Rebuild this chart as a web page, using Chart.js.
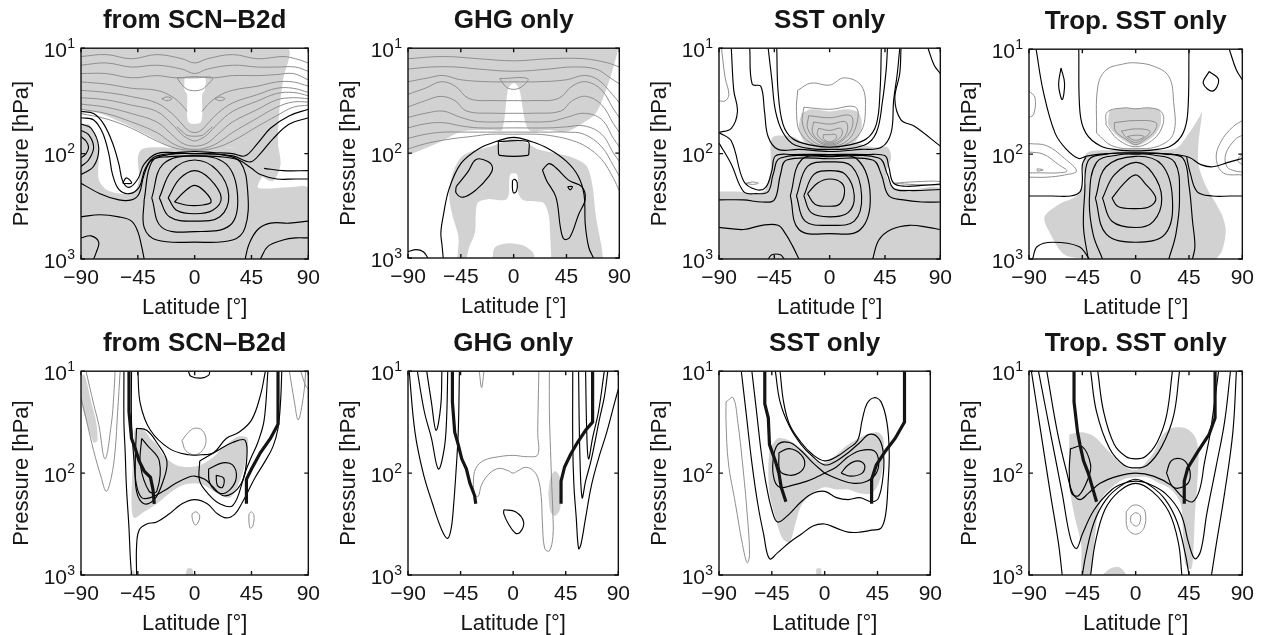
<!DOCTYPE html>
<html><head><meta charset="utf-8">
<script src="https://cdn.jsdelivr.net/npm/chart.js@4/dist/chart.umd.min.js"></script>
<style>
html,body{margin:0;padding:0;background:#fff;}
body{width:1266px;height:635px;overflow:hidden;position:relative;}
.pn{position:absolute;}
</style>
</head><body>
<script>
// ---------- axis values ----------
const latTicks = [-90, -45, 0, 45, 90];
const pressureTicks = [10, 100, 1000];
const pressureExponents = [1, 2, 3];
const panelTitles = ['from SCN\u2013B2d','GHG only','SST only','Trop. SST only','from SCN\u2013B2d','GHG only','SST only','Trop. SST only'];

// ---------- contour data: [latitude (deg), pressure (hPa)] ----------
// Panel 1 (top, from SCN-B2d)
const t1Shade = [
 [[-90,10],[73,10],[70,20],[67,39.8],[66,79.4],[68,126],[62,182],[52,158],[45,100],[35,87.1],[15,91.2],[0,95.5],[-15,91.2],[-35,69.2],[-55,52.5],[-75,41.7],[-90,38]],
 [[-90,55],[-84,52.5],[-78,69.2],[-76,110],[-76,174],[-70,219],[-58,240],[-48,229],[-44,174],[-45,110],[-42,91.2],[-30,87.1],[0,91.2],[30,87.1],[55,83.2],[63,100],[63,138],[55,158],[50,209],[60,214],[75,209],[90,214],[90,1000],[-90,1000]]
];
const t1Hole = [
 [[-8,19.1],[8,19.1],[8,25.1],[6,27.5],[5,50.1],[-5,50.1],[-6,27.5],[-8,25.1],[-8,19.1]]
];
const t1Gray = [
 [[-90,12],[-70,11.5],[-50,12.6],[-30,11.5],[-10,12.6],[0,13.8],[10,12.6],[30,11.5],[50,12.6],[70,12],[80,12.6],[90,13.8]],
 [[-90,14.5],[-70,13.8],[-50,15.1],[-30,14.5],[-10,15.8],[0,17.4],[10,15.8],[30,14.5],[50,15.1],[65,15.1],[80,15.1],[90,16.6]],
 [[-90,17.4],[-70,17.4],[-50,19.1],[-30,18.2],[-15,19.1],[0,18.6],[15,19.1],[30,18.2],[50,18.2],[65,17.8],[78,17.4],[90,20]],
 [[-90,20.9],[-70,21.9],[-50,24],[-30,25.1],[-18,28.8],[-10,34.7],[-6,39.8]],
 [[6,39.8],[10,34.7],[18,28.8],[30,25.1],[50,22.9],[65,20.9],[78,20.9],[90,22.9]],
 [[-90,25.1],[-70,26.3],[-50,28.8],[-30,33.1],[-18,41.7],[-10,52.5],[-5,60.3],[0,63.1],[5,60.3],[10,52.5],[18,41.7],[30,33.1],[50,27.5],[65,24],[78,24],[90,26.3]],
 [[-90,29.5],[-70,30.9],[-50,34.7],[-30,39.8],[-18,52.5],[-10,66.1],[-5,72.4],[0,75.9],[5,72.4],[10,66.1],[18,52.5],[30,39.8],[50,31.6],[65,26.9],[78,26.3],[90,28.2]],
 [[-90,33.9],[-70,36.3],[-50,41.7],[-30,50.1],[-18,66.1],[-10,79.4],[0,85],[10,79.4],[18,66.1],[30,50.1],[50,38],[65,30.9],[78,29.5],[90,30.2]],
 [[-90,38],[-70,41.7],[-50,50.1],[-30,63.1],[-18,79.4],[-8,89],[0,91.2],[8,89],[18,79.4],[30,63.1],[50,45.7],[65,36.3],[78,32.4],[90,32.4]],
 [[-90,41.7],[-70,46.8],[-50,57.5],[-30,75.9],[-15,89],[0,93.3],[15,89],[30,75.9],[50,55],[65,43.7],[78,36.3],[90,34.7]],
 [[-14,19.1],[-9,23],[-4,25],[4,25],[9,23],[14,19.1],[0,19.1],[-14,19.1]],
 [[-14,55.6],[-9,63.1],[-5,67.6],[5,67.6],[9,63.1],[14,55.6]],
 [[-26,30.2],[-22,29],[-18,30.2],[-22,31.5],[-26,30.2]],
 [[16,30.2],[20,29],[24,30.2],[20,31.5],[16,30.2]]
];
const t1Black = [
 [[-16,288],[-8,229],[0,200],[8,229],[13,288],[5,309],[-6,309],[-16,288]],
 [[-21,263],[-12,174],[0,145],[12,174],[21,263],[14,347],[0,372],[-14,347],[-21,263]],
 [[-28,263],[-18,145],[0,115],[18,145],[27,251],[20,398],[0,437],[-20,398],[-28,263]],
 [[-34,263],[-25,126],[0,105],[25,126],[34,251],[28,479],[0,550],[-26,501],[-34,263]],
 [[-40,275],[-34,120],[-20,102],[0,100],[20,102],[36,120],[42,229],[40,501],[30,661],[0,692],[-30,661],[-40,501],[-40,275]],
 [[-90,39.8],[-80,41.7],[-72,52.5],[-65,79.4],[-60,126],[-57,182],[-52,209],[-45,174],[-40,126],[-30,100],[-15,97.7],[0,95.5],[15,97.7],[30,100],[40,105],[50,79.4],[60,57.5],[75,43.7],[90,38]],
 [[-90,45.7],[-80,47.9],[-73,63.1],[-68,100],[-65,158],[-60,219],[-52,240],[-44,209],[-39,138],[-30,105],[0,100],[30,105],[44,120],[52,100],[62,72.4],[75,52.5],[90,45.7]],
 [[-90,191],[-75,240],[-60,275],[-50,275],[-44,240],[-40,158],[-34,115],[-20,107],[0,105],[20,107],[35,115],[45,138],[52,158],[65,174],[80,174],[90,174]],
 [[-90,398],[-75,380],[-60,398],[-50,437],[-45,550],[-42,759],[-40,1000]],
 [[40,1000],[43,724],[50,525],[60,457],[75,457],[90,437]],
 [[52,1000],[58,759],[70,661],[80,631],[90,631]],
 [[-90,631],[-82,603],[-76,692],[-78,871],[-80,1000]],
 [[-90,69.2],[-86,75.9],[-84,87.1],[-86,100],[-90,110]],
 [[-90,60.3],[-84,66.1],[-80,87.1],[-84,115],[-90,132]],
 [[-90,52.5],[-82,57.5],[-76,87.1],[-80,132],[-90,158]],
 [[-57,191],[-54,170],[-50,191],[-57,191]],
 [[55,138],[70,145],[90,145]]
];

// Panel 2 (top, GHG only)
const t2Shade = [
 [[-90,10],[88,10],[85,15.1],[78,26.3],[70,41.7],[58,52.5],[44,63.1],[30,60.3],[13,60.3],[5,25.1],[2,21.9],[-2,21.9],[-5,25.1],[-10,60.3],[-18,60.3],[-32,60.3],[-46,63.1],[-60,75.9],[-74,89],[-90,105]],
 [[-48,1000],[-47,631],[-52,398],[-55,251],[-52,158],[-45,110],[-35,95.5],[-20,87.1],[-10,79.4],[0,72.4],[10,79.4],[20,91.2],[35,100],[50,110],[62,132],[67,200],[70,398],[75,794],[76,1000]]
];
const t2Hole = [
 [[-40,1000],[-38,794],[-33,575],[-31,302],[-22,275],[-12,282],[-6,275],[-4,240],[-3,160],[3,160],[4,240],[8,280],[18,288],[26,302],[30,400],[31,575],[32,1000]]
];
const t2Patch = [
 [[-18,1000],[-16,794],[-5,724],[8,759],[16,871],[18,1000]]
];
const t2Gray = [
 [[-90,12.6],[-60,12],[-30,12.6],[0,13.2],[30,12.6],[60,12.6],[80,13.8],[90,15.1]],
 [[-90,15.8],[-70,15.1],[-50,15.1],[-30,15.8],[0,16.6],[30,15.8],[50,15.1],[70,15.8],[82,19.1],[90,21.9]],
 [[-90,20.9],[-72,19.1],[-60,18.2],[-45,20],[-20,20.9],[0,20.9],[20,20.9],[45,20],[60,18.2],[72,20],[84,27.5],[90,33.1]],
 [[-90,27.5],[-75,24],[-62,20.9],[-50,22.9],[-38,30.2],[-15,31.6],[0,31.6],[15,31.6],[38,30.2],[50,22.9],[62,20.9],[75,25.1],[85,38],[90,45.7]],
 [[-90,36.3],[-75,31.6],[-62,28.8],[-50,31.6],[-40,39.8],[-15,41.7],[0,41.7],[15,41.7],[40,39.8],[50,31.6],[62,28.8],[75,34.7],[85,52.5],[90,63.1]],
 [[-90,45.7],[-75,41.7],[-60,39.8],[-45,45.7],[-30,50.1],[0,50.1],[30,50.1],[45,45.7],[60,41.7],[75,47.9],[85,72.4],[90,87.1]],
 [[-90,57.5],[-75,52.5],[-60,51.3],[-45,55],[-30,57.5],[0,57.5],[30,57.5],[45,56.2],[60,55],[75,66.1],[85,100],[90,120]],
 [[-90,72.4],[-75,66.1],[-60,63.1],[-45,63.1],[-30,63.1],[0,63.1],[30,63.1],[45,63.1],[60,66.1],[75,87.1],[85,132],[90,166]],
 [[-90,91.2],[-75,81.3],[-62,75.9],[-50,72.4],[-35,69.2],[-20,66.1],[0,66.1],[20,66.1],[35,69.2],[50,75.9],[62,87.1],[75,115],[85,174],[90,229]],
 [[-12,19.5],[12,19.5],[5,24],[-5,24],[-12,19.5]]
];
const t2Black = [
 [[-60,1000],[-61,759],[-62,575],[-60,398],[-55,219],[-45,126],[-30,91.2],[-15,77.6],[0,70.8],[15,77.6],[30,91.2],[45,120],[55,166],[60,251],[61,479],[64,794],[68,1000]],
 [[-13,77.6],[12,77.6],[13,95.5],[12,105],[-12,105],[-13,95.5],[-13,77.6]],
 [[-49,209],[-39,151],[-32,115],[-22,120],[-18,138],[-21,166],[-32,224],[-43,263],[-49,240],[-49,209]],
 [[24.5,145],[30,126],[36,138],[47,182],[58,209],[61,275],[55.5,380],[48,631],[43,661],[40,525],[36,263],[28,182],[24.5,145]],
 [[46,209],[50,209],[48,224],[46,209]],
 [[-1,182],[1,178],[3,191],[2.5,229],[0,240],[-1,220],[-1,182]],
 [[-90,871],[-83,832],[-77,871],[-73,1000]]
];

// Panel 3 (top, SST only)
const t3Shade = [
 [[-23,41.7],[-15,38],[0,39.8],[15,38],[24,41.7],[26,57.5],[20,79.4],[10,87.1],[-10,87.1],[-20,79.4],[-25,57.5],[-23,41.7]],
 [[-90,229],[-75,229],[-60,240],[-52,219],[-48,145],[-48,87.1],[-46,69.2],[-30,69.2],[-20,79.4],[20,79.4],[35,87.1],[47,87.1],[50,110],[46,158],[52,209],[65,219],[90,219],[90,1000],[-90,1000]]
];
const t3Gray = [
 [[-26,25.1],[-15,21.4],[0,22.4],[12,19.1],[26,22.9],[29,39.8],[25,63.1],[12,83.2],[0,87.1],[-12,83.2],[-24,63.1],[-27,39.8],[-26,25.1]],
 [[-21,36.3],[0,38],[21,36.3],[22,52.5],[14,75.9],[0,85],[-14,75.9],[-22,52.5],[-21,36.3]],
 [[-17,43.7],[0,45.7],[17,43.7],[18,57.5],[10,75.9],[0,83.2],[-10,75.9],[-18,57.5],[-17,43.7]],
 [[-13,50.1],[0,52.5],[13,50.1],[14,63.1],[8,75.9],[0,81.3],[-8,75.9],[-14,63.1],[-13,50.1]],
 [[-9,57.5],[0,60.3],[9,57.5],[10,66.1],[5,75.9],[0,79.4],[-5,75.9],[-10,66.1],[-9,57.5]],
 [[-5,66.1],[0,66.1],[5,66.1],[5,72.4],[0,77.6],[-5,72.4],[-5,66.1]],
 [[-88,10],[-85,19.1],[-82,27.5],[-85,31.6],[-90,31.6]],
 [[-68,191],[-63,186],[-58,191],[-63,196],[-68,191]],
 [[52,191],[70,185],[90,184],[90,197],[70,197],[52,191]]
];
const t3Black = [
 [[-18,240],[-10,191],[0,174],[10,191],[12,240],[8,302],[0,316],[-12,302],[-18,240]],
 [[-21,251],[-13,158],[0,145],[13,158],[20,251],[15,363],[0,398],[-15,363],[-21,251]],
 [[-27,251],[-18,132],[0,120],[18,132],[26,251],[20,437],[0,479],[-20,437],[-27,251]],
 [[-32,251],[-23,115],[0,105],[23,115],[33,251],[25,525],[0,575],[-25,525],[-32,251]],
 [[-65,10],[-63,21.9],[-56,23],[-53,39.8],[-50,69.2],[-42,91.2],[-25,91.2],[0,95.5],[25,91.2],[42,87.1],[50,63.1],[52,31.6],[55,17.4],[57,10]],
 [[-50,10],[-47,20],[-44,39.8],[-38,63.1],[-28,83.2],[0,91.2],[28,83.2],[38,63.1],[43,31.6],[46,15.8],[47,10]],
 [[-43,10],[-42,25.1],[-38,52.5],[-30,72.4],[-15,83.2],[0,87.1],[15,83.2],[30,72.4],[38,52.5],[41,25.1],[42,10]],
 [[-90,63.1],[-80,75.9],[-70,182],[-60,219],[-52,209],[-47,145],[-44,105],[-30,102],[0,102],[30,102],[45,105],[48,132],[52,191],[62,204],[75,200],[90,195]],
 [[-90,79.4],[-80,126],[-70,229],[-60,240],[-50,229],[-46,158],[-40,110],[0,107],[40,110],[47,158],[52,214],[65,224],[90,219]],
 [[-90,275],[-70,275],[-55,288],[-45,275],[-40,158],[-35,115],[0,112],[35,115],[42,158],[48,251],[60,275],[75,288],[90,288]],
 [[-90,501],[-70,525],[-55,479],[-42,479],[-36,575],[-30,759],[-25,1000]],
 [[35,1000],[40,661],[50,525],[65,479],[80,501],[90,525]],
 [[-50,1000],[-47,912],[-40,912],[-37,1000]],
 [[58,10],[57,17.4],[53,30.2],[58,47.9],[69,55],[90,85]],
 [[80,10],[85,14.5],[90,17.4]],
 [[-80,10],[-78,25.1],[-75,39.8],[-80,57.5],[-90,63.1]]
];

// Panel 4 (top, Trop. SST only)
const t4Shade = [
 [[-22,38],[-10,36.3],[0,37],[10,36.3],[20,38],[21,52.5],[14,69.2],[0,83.2],[-14,69.2],[-23,52.5],[-22,38]],
 [[-40,1000],[-60,912],[-72,575],[-77,398],[-65,302],[-50,251],[-42,182],[-45,126],[-40,95.5],[-20,91.2],[0,87.1],[20,91.2],[35,87.1],[45,63.1],[54,43.7],[56,39.8],[53,79.4],[53,126],[60,209],[72,363],[76,525],[73,832],[68,1000]]
];
const t4Gray = [
 [[-33,63.1],[-32,22.9],[-25,15.8],[-10,13.8],[0,13.5],[15,14.5],[28,18.2],[32,31.6],[32,63.1],[20,83.2],[0,89],[-20,83.2],[-33,63.1]],
 [[-25,52.5],[-24,39.8],[-10,36.3],[0,37],[12,36.3],[22,39.8],[23,52.5],[15,72.4],[0,85],[-15,72.4],[-25,52.5]],
 [[-18,50.1],[0,47.9],[17,50.1],[16,60.3],[8,72.4],[0,81.3],[-8,72.4],[-17,60.3],[-18,50.1]],
 [[-12,60.3],[0,57.5],[12,60.3],[8,69.2],[0,77.6],[-8,69.2],[-12,60.3]],
 [[-7,68],[0,66],[7,68],[0,74],[-7,68]],
 [[-90,25.1],[-85,28.8],[-86,41.7],[-90,44.7]],
 [[-90,79.4],[-75,83.2],[-60,110],[-50,145],[-60,158],[-75,166],[-90,166]],
 [[-90,95.5],[-78,100],[-65,126],[-58,145],[-66,151],[-78,151],[-90,151]],
 [[-83,138],[-78,141],[-83,145],[-83,138]],
 [[90,47.9],[82,55],[72,75.9],[68,110],[74,151],[90,158]],
 [[90,66.1],[84,72.4],[76,100],[77,132],[84,145],[90,148]],
 [[90,100],[86,115],[90,126]]
];
const t4Black = [
 [[-20,263],[-10,191],[0,158],[8,191],[17,263],[12,316],[0,331],[-15,316],[-20,263]],
 [[-28,263],[-18,158],[0,120],[14,151],[22,263],[15,437],[0,501],[-20,437],[-28,263]],
 [[-34,263],[-25,132],[0,105],[22,126],[31,263],[25,575],[0,692],[-25,575],[-34,263]],
 [[-28,1000],[-36,575],[-39,263],[-33,120],[-15,102],[0,100],[15,102],[33,120],[37,263],[34,575],[28,1000]],
 [[-40,1000],[-44,501],[-43,240],[-40,115],[-25,100],[0,98],[25,100],[40,110],[45,200],[48,437],[50,759],[48,1000]],
 [[-48,10],[-47,39.8],[-42,63.1],[-30,83.2],[-15,91.2],[0,93.3],[15,91.2],[30,83.2],[40,63.1],[44,39.8],[45,10]],
 [[-84,10],[-78,25.1],[-68,63.1],[-58,91.2],[-48,110],[-42,105],[-30,100],[0,97],[30,100],[45,107],[55,126],[65,132],[78,120],[90,110]],
 [[-90,251],[-70,251],[-55,251],[-47,229],[-45,182],[-45,126],[-42,107]],
 [[43,107],[46,151],[52,229],[65,251],[80,251],[90,251]],
 [[-63,15.1],[-60,21.1],[-62,30.2],[-65,21.9],[-63,15.1]],
 [[62,16.3],[70,19.6],[65,25.1],[57,21.1],[62,16.3]],
 [[79,10],[85,15.8],[90,19.5]],
 [[-87,1000],[-83,759],[-70,692],[-48,759],[-39,1000]]
];

// Panel 5 (bottom, from SCN-B2d)
const b1Shade = [
 [[-90,11],[-87,11],[-82,20],[-78,31.6],[-77,47.9],[-80,50.1],[-83,39.8],[-88,25.1],[-90,20]],
 [[-47,36.3],[-40,38],[-35,45.7],[-30,52.5],[-25,66.1],[-15,83.2],[-5,87.1],[5,83.2],[15,69.2],[25,52.5],[35,43.7],[42,45.7],[40,79.4],[35,126],[28,174],[18,158],[8,132],[0,126],[-10,132],[-20,158],[-30,200],[-40,240],[-48,275],[-50,200],[-49,79.4],[-48,39.8]],
 [[-52,1000],[-50,912],[-48,912],[-47,1000]],
 [[-7,1000],[-6,871],[-2,871],[-1,1000]]
];
const b1Gray = [
 [[-10,47.9],[-5,39.8],[0,36.3],[6,38],[9,47.9],[6,60.3],[0,66.1],[-7,60.3],[-10,47.9]],
 [[-2,251],[1,240],[4,263],[2,316],[0,320],[-2,275],[-2,251]],
 [[43,251],[45,240],[47,263],[46,331],[44,347],[43,302],[43,251]],
 [[-90,18.2],[-85,33],[-80,60.3],[-74,110],[-70,151],[-66,110],[-63,60.3],[-61,25.1],[-59,10]],
 [[-86,10],[-80,21],[-76,33.1],[-71,72.4],[-66,33.1],[-64,17],[-63,10]],
 [[75,10],[79,20],[82,30],[86,18],[88,10]],
 [[84,10],[88,14],[90,15]]
];
const b1Black = [
 [[-56,10],[-56,31.6],[-55,63.1],[-54,138],[-52,347],[-51,661],[-50,1000]],
 [[-46,1000],[-46,525],[-44,363],[-38,316],[-30,302],[-20,251],[-10,200],[0,182],[10,200],[18,251],[25,275],[32,251],[38,191],[43,145],[48,110],[55,79.4],[62,55],[66,36.3],[68,20],[69,10]],
 [[-50,10],[-50,31.6],[-48,75.9],[-46,132],[-42,174],[-35,174],[-25,151],[-15,126],[-5,110],[0,107],[8,115],[15,138],[22,166],[30,158],[37,126],[41,91.2],[45,69.2],[50,50.1],[55,30.2],[58,10]],
 [[-45,10],[-43,20.9],[-35,38],[-20,57.5],[-5,66.1],[5,66.1],[15,63.1],[25,45.7],[35,39.8],[45,30.2],[52,17.4],[56,10]],
 [[-5,10],[-3,11.2],[5,11.7],[11,11],[12,10]],
 [[-42,45.7],[-38,52.5],[-28,75.9],[-30,151],[-36,151],[-43,83.2],[-42,45.7]],
 [[-46,36.3],[-38,38],[-30,50.1],[-22,75.9],[-25,120],[-32,182],[-40,200],[-46,151],[-47,75.9],[-46,36.3]],
 [[17,105],[23,112],[22,138],[18,132],[17,105]],
 [[11,91.2],[22,79.4],[30,83.2],[33,110],[28,145],[20,158],[12,126],[11,91.2]],
 [[4,75.9],[18,60.3],[30,50.1],[40,47.9],[41,79.4],[38,120],[30,209],[20,200],[12,166],[4,120],[4,75.9]]
];
const b1Thick = [
 [[-52,10],[-52,25.1],[-50,45.7],[-47,57.5],[-44,75.9],[-40,95.5],[-35,110],[-33,145],[-32,200]],
 [[66,10],[66,33.1],[60,45.7],[52,63.1],[45,91.2],[41,115],[41,200]]
];

// Panel 6 (bottom, GHG only)
const b2Shade = [
 [[30,158],[32,110],[36,95.5],[40,110],[41,158],[40,229],[36,263],[32,240],[30,158]]
];
const b2Gray = [
 [[-29,10],[-27,14.5],[-25,10]],
 [[22,10],[21,40],[21,66],[12,69],[0,67],[-12,69],[-25,75],[-32,90],[-34,120],[-33,160],[-30,170],[-27,130],[-20,100],[-12,90],[-4,95],[0,100],[4,95],[10,88],[16,92],[21,110],[24,170],[25,300],[27,550],[31,580],[34,420],[34,250],[33,130],[32,60],[31,25],[31,10]]
];
const b2Black = [
 [[-89,10],[-84,39.8],[-77,100],[-69,200],[-61,363],[-56,437],[-53,347],[-51,209],[-49,100],[-47,39.8],[-46,10]],
 [[-82,10],[-76,25],[-70,45],[-64,91.2],[-59,57.5],[-57,30],[-56,10]],
 [[-74,10],[-70,20],[-66,38],[-62,22],[-61,10]],
 [[51,10],[51,52.5],[52,132],[54,275],[56,550],[58,501],[62,275],[67,132],[73,72.4],[80,40],[87,20],[90,15]],
 [[56,10],[57,60],[59,174],[62,120],[67,72.4],[74,29],[78,18],[81,10]],
 [[62,10],[63,40],[64.5,72.4],[68,45],[73,25],[78,10]],
 [[-8,229],[2,240],[9,302],[6,380],[2,389],[-4,316],[-8,251],[-8,229]]
];
const b2Thick = [
 [[-52,10],[-52,20],[-50,39.8],[-47,52.5],[-44,72.4],[-40,91.2],[-37,126],[-33,166],[-32,200]],
 [[68,10],[68,31.6],[62,38],[55,50.1],[49,66.1],[44,87.1],[41,120],[41,200]]
];

// Panel 7 (bottom, SST only)
const b3Shade = [
 [[-47,57.5],[-40,45.7],[-30,47.9],[-20,57.5],[-10,72.4],[0,79.4],[10,66.1],[20,52.5],[32,43.7],[45,39.8],[50,45.7],[50,79.4],[46,126],[40,158],[30,158],[20,145],[10,145],[0,138],[-10,158],[-20,209],[-25,316],[-30,479],[-36,437],[-42,275],[-47,158],[-48,91.2],[-47,57.5]],
 [[-7,1000],[-7,871],[-3,871],[-3,1000]]
];
const b3Gray = [
 [[-84,20],[-78,18.2],[-74,31.6],[-70,79.4],[-66,251],[-64,631],[-66,759],[-70,501],[-76,200],[-82,79.4],[-84,31.6],[-84,20]]
];
const b3Black = [
 [[-71,10],[-67,25.1],[-62,79.4],[-57,200],[-52,398],[-47,692],[-40,603],[-30,479],[-20,398],[-10,331],[0,316],[10,347],[20,380],[30,380],[40,363],[48,347],[52,251],[54,126],[55,63.1],[53,31.6],[48,20],[42,18.2],[36,20.9],[32,30],[28,47.9],[20,57.5],[10,69.2],[0,75.9],[-10,66.1],[-20,50.1],[-30,33.1],[-35,20],[-38,10]],
 [[-62,10],[-58,25.1],[-54,63.1],[-50,126],[-45,229],[-40,302],[-30,251],[-20,191],[-10,158],[0,151],[10,174],[20,182],[30,174],[40,191],[46,174],[50,100],[50,63.1],[46,45.7],[38,41.7],[30,50.1],[20,63.1],[10,75.9],[0,83.2],[-10,69.2],[-20,52.5],[-30,34.7],[-38,20],[-42,10]],
 [[0,100],[-10,79.4],[-20,60.3],[-30,50.1],[-40,52.5],[-44,75.9],[-43,115],[-38,138],[-28,132],[-15,120],[-5,107],[0,100],[10,87.1],[20,69.2],[30,60.3],[42,60.3],[46,75.9],[44,100],[36,120],[25,126],[12,115],[0,100]],
 [[-39,63.1],[-30,57.5],[-20,66.1],[-17,83.2],[-22,100],[-30,105],[-38,95.5],[-39,63.1]],
 [[14,100],[20,83.2],[28,75.9],[34,83.2],[32,100],[22,107],[14,100]]
];
const b3Thick = [
 [[-51,10],[-51,20.9],[-48,28.8],[-47,52.5],[-42,75.9],[-39,100],[-37,138],[-33,191]],
 [[68,10],[68,31.6],[60,45.7],[52,60.3],[44,83.2],[40,115],[40,200]]
];

// Panel 8 (bottom, Trop. SST only)
const b4Shade = [
 [[-56,41.7],[-45,39.8],[-35,43.7],[-25,57.5],[-15,75.9],[-5,91.2],[0,93.3],[5,87.1],[15,63.1],[22,43.7],[30,36.3],[42,36.3],[50,43.7],[53,63.1],[52,126],[50,251],[49,501],[47,871],[42,794],[40,398],[38,200],[30,145],[20,126],[10,110],[0,110],[-10,115],[-20,138],[-28,174],[-32,251],[-35,501],[-38,1000],[-45,1000],[-46,501],[-52,251],[-56,126],[-56,41.7]],
 [[-28,1000],[-22,871],[-15,832],[-10,912],[-8,1000]]
];
const b4Gray = [
 [[-8,240],[-3,209],[3,209],[8,240],[7,347],[0,398],[-7,347],[-8,240]],
 [[-4,263],[0,245],[4,263],[3,316],[0,331],[-4,302],[-4,263]]
];
const b4Black = [
 [[-88,10],[-80,39.8],[-72,158],[-65,501],[-62,1000]],
 [[85,10],[82,39.8],[75,158],[68,501],[64,1000]],
 [[-82,10],[-72,39.8],[-62,158],[-55,437],[-50,550],[-45,398],[-35,229],[-20,145],[-10,126],[0,120],[10,126],[25,158],[38,251],[45,501],[50,692],[55,575],[60,251],[68,85],[75,31.6],[80,10]],
 [[-75,10],[-66,39.8],[-58,100],[-53,158],[-47,182],[-40,158],[-30,126],[-15,107],[0,100],[15,107],[30,132],[40,174],[48,191],[54,145],[58,79.4],[63,39.8],[70,10]],
 [[-32,10],[-27,25.1],[-18,52.5],[-8,69.2],[0,72.4],[8,69.2],[18,50.1],[26,27.5],[31,10]],
 [[-38,10],[-33,25.1],[-22,57.5],[-10,83.2],[0,89],[10,83.2],[22,55],[32,27.5],[37,10]],
 [[-38,1000],[-34,479],[-26,229],[-14,151],[0,126],[14,151],[28,240],[36,479],[39,1000]],
 [[-45,1000],[-42,631],[-35,302],[-25,182],[-12,132],[0,115],[12,132],[25,182],[35,302],[42,631],[45,1000]],
 [[-55,57.5],[-45,55],[-38,83.2],[-40,112],[-48,166],[-54,158],[-56,100],[-55,57.5]],
 [[26,100],[30,75.9],[38,72.4],[44,83.2],[46,110],[42,132],[32,138],[26,100]]
];
const b4Thick = [
 [[-52,10],[-52,20],[-49,39.8],[-47,52.5],[-44,75.9],[-40,100],[-37,132],[-33,191]],
 [[67,10],[67,28.8],[62,41.7],[53,60.3],[44,89],[41,120],[41,200]]
];

// ---------- layout (page pixels of each plotting frame) ----------
const frames = [
 {L:81,R:309,T:48,B:259},{L:408,R:620,T:48,B:258},{L:719,R:941,T:48,B:259},{L:1029,R:1243,T:49,B:259},
 {L:81,R:309,T:371,B:575},{L:408,R:619,T:371,B:575},{L:719,R:931,T:371,B:575},{L:1029,R:1243,T:371,B:575}
];
const panelSets = [
 {shade:t1Shade, hole:t1Hole, patch:[], gray:t1Gray, black:t1Black, thick:[]},
 {shade:t2Shade, hole:t2Hole, patch:t2Patch, gray:t2Gray, black:t2Black, thick:[]},
 {shade:t3Shade, hole:[], patch:[], gray:t3Gray, black:t3Black, thick:[]},
 {shade:t4Shade, hole:[], patch:[], gray:t4Gray, black:t4Black, thick:[]},
 {shade:b1Shade, hole:[], patch:[], gray:b1Gray, black:b1Black, thick:b1Thick},
 {shade:b2Shade, hole:[], patch:[], gray:b2Gray, black:b2Black, thick:b2Thick},
 {shade:b3Shade, hole:[], patch:[], gray:b3Gray, black:b3Black, thick:b3Thick},
 {shade:b4Shade, hole:[], patch:[], gray:b4Gray, black:b4Black, thick:b4Thick}
];

const FONT = '"Liberation Sans", Arimo, Arial, Helvetica, sans-serif';
const TXT = '#161616';
Chart.defaults.font.family = FONT;
Chart.defaults.color = TXT;
const SHADE = '#d2d2d2';
const GRAY = '#8e8e8e';

function mk(arr, kind) {
  const base = {data: arr.map(p => ({x: p[0], y: p[1]})), pointRadius: 0, pointHoverRadius: 0, pointHitRadius: 0};
  if (kind === 'shade') return Object.assign(base, {fill: 'shape', backgroundColor: SHADE, borderColor: 'rgba(0,0,0,0)', borderWidth: 0, tension: 0.3, order: 10});
  if (kind === 'hole') return Object.assign(base, {fill: 'shape', backgroundColor: '#ffffff', borderColor: 'rgba(0,0,0,0)', borderWidth: 0, tension: 0.3, order: 9});
  if (kind === 'patch') return Object.assign(base, {fill: 'shape', backgroundColor: SHADE, borderColor: 'rgba(0,0,0,0)', borderWidth: 0, tension: 0.3, order: 8});
  if (kind === 'gray') return Object.assign(base, {fill: false, borderColor: GRAY, borderWidth: 1, tension: 0.38, order: 3});
  if (kind === 'black') return Object.assign(base, {fill: false, borderColor: '#000', borderWidth: 1.15, tension: 0.38, order: 2});
  return Object.assign(base, {fill: false, borderColor: '#141414', borderWidth: 3.2, tension: 0, order: 1});
}

// frame, inner tick marks and "10^n" pressure labels (placed with the y scale)
const framePlugin = {
  id: 'frame',
  afterDatasetsDraw(chart) {
    const {ctx, chartArea: a, scales} = chart;
    ctx.save();
    ctx.strokeStyle = '#111';
    ctx.lineWidth = 1.4;
    ctx.beginPath();
    latTicks.forEach(v => {
      const x = scales.x.getPixelForValue(v);
      ctx.moveTo(x, a.bottom); ctx.lineTo(x, a.bottom - 4);
      ctx.moveTo(x, a.top); ctx.lineTo(x, a.top + 4);
    });
    pressureTicks.forEach(v => {
      const y = scales.y.getPixelForValue(v);
      ctx.moveTo(a.left, y); ctx.lineTo(a.left + 4, y);
      ctx.moveTo(a.right, y); ctx.lineTo(a.right - 4, y);
    });
    ctx.stroke();
    ctx.strokeRect(a.left, a.top, a.right - a.left, a.bottom - a.top);
    ctx.fillStyle = TXT;
    ctx.textAlign = 'right';
    ctx.textBaseline = 'middle';
    pressureTicks.forEach((v, k) => {
      const y = scales.y.getPixelForValue(v);
      ctx.font = '21px ' + FONT;
      ctx.fillText('10', a.left - 14, y + 3);
      ctx.font = '14px ' + FONT;
      ctx.fillText(String(pressureExponents[k]), a.left - 6, y - 4);
    });
    ctx.restore();
  }
};

frames.forEach((f, i) => {
  const w = f.R - f.L + 81 + 18;
  const h = f.B - f.T + 48 + 62;
  const div = document.createElement('div');
  div.className = 'pn';
  div.style.left = (f.L - 81) + 'px';
  div.style.top = (f.T - 48) + 'px';
  const cv = document.createElement('canvas');
  cv.width = w; cv.height = h;
  cv.style.width = w + 'px'; cv.style.height = h + 'px';
  div.appendChild(cv);
  document.body.appendChild(div);
  const s = panelSets[i];
  const datasets = [];
  s.shade.forEach(a => datasets.push(mk(a, 'shade')));
  s.hole.forEach(a => datasets.push(mk(a, 'hole')));
  s.patch.forEach(a => datasets.push(mk(a, 'patch')));
  s.gray.forEach(a => datasets.push(mk(a, 'gray')));
  s.black.forEach(a => datasets.push(mk(a, 'black')));
  s.thick.forEach(a => datasets.push(mk(a, 'thick')));
  new Chart(cv, {
    type: 'line',
    data: {datasets},
    options: {
      responsive: false, animation: false, events: [],
      layout: {padding: {top: 5, right: 18, left: 0, bottom: 0}},
      plugins: {
        legend: {display: false}, tooltip: {enabled: false},
        title: {display: true, fullSize: false, text: panelTitles[i], color: TXT, font: {size: 26, weight: 'bold'}, padding: {top: 0, bottom: 12}}
      },
      scales: {
        x: {
          type: 'linear', min: -90, max: 90,
          afterBuildTicks: sc => { sc.ticks = latTicks.map(v => ({value: v})); },
          afterFit: sc => { sc.height = 62; },
          grid: {display: false, drawTicks: false}, border: {display: false},
          ticks: {autoSkip: false, maxRotation: 0, padding: 7, color: TXT, font: {size: 21},
            callback: v => v < 0 ? '\u2212' + Math.abs(v) : String(v)},
          title: {display: true, text: 'Latitude [\u00b0]', color: TXT, font: {size: 22}, padding: {top: 0, bottom: 0}}
        },
        y: {
          type: 'logarithmic', reverse: true, min: 10, max: 1000,
          afterBuildTicks: sc => { sc.ticks = pressureTicks.map(v => ({value: v})); },
          afterFit: sc => { sc.width = 81; },
          grid: {display: false, drawTicks: false}, border: {display: false},
          ticks: {display: false},
          title: {display: true, text: 'Pressure [hPa]', color: TXT, font: {size: 22}, padding: 9}
        }
      }
    },
    plugins: [framePlugin]
  });
});
</script>
</body></html>
